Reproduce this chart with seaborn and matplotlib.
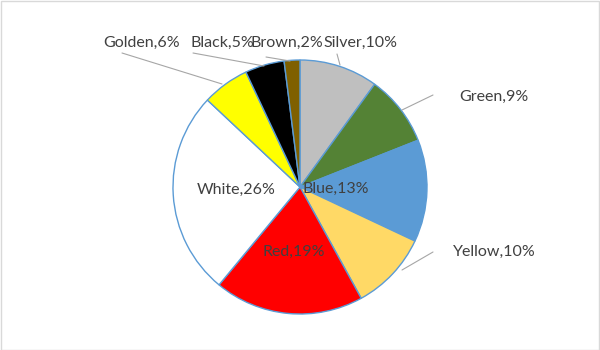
import matplotlib
matplotlib.use("Agg")
import matplotlib.pyplot as plt
import seaborn as sns
from matplotlib.patches import Rectangle

sns.set_theme(style="white")
plt.rcParams['font.family'] = ['Lato', 'DejaVu Sans']

# data
categories = ["Silver", "Green", "Blue", "Yellow", "Red", "White", "Golden", "Black", "Brown"]
values = [10, 9, 13, 10, 19, 26, 6, 5, 2]
colors = ["#BFBFBF", "#548235", "#5B9BD5", "#FFD966", "#FF0000", "#FFFFFF", "#FFFF00", "#000000", "#7F6000"]

# label positions in pixel coords (left x, center y from top)
label_pos = {
    "Silver": (323, 43), "Green": (459, 97), "Blue": (303, 189), "Yellow": (453, 252),
    "Red": (262, 252), "White": (197, 190), "Golden": (103, 43), "Black": (190, 43),
    "Brown": (250, 43),
}
leaders = {
    "Golden": ((122, 53), (222, 84)),
    "Black": ((193, 53), (264, 66)),
    "Brown": ((266, 57), (290, 61)),
    "Silver": ((337, 54), (340, 65)),
    "Green": ((433, 95), (402, 110)),
    "Yellow": ((433, 252), (402, 270)),
}

W, H = 600, 350
fig = plt.figure(figsize=(6, 3.5), dpi=100)
ax = fig.add_axes([0, 0, 1, 1])

ax.pie(values, colors=colors, startangle=90, counterclock=False,
       center=(300, H - 187), radius=127, frame=True,
       wedgeprops=dict(edgecolor="#5B9BD5", linewidth=1.0))
ax.set_xlim(0, W)
ax.set_ylim(0, H)
ax.set_aspect("equal")
ax.axis("off")

total = sum(values)
for c, v in zip(categories, values):
    px, py = label_pos[c]
    ax.text(px, H - py, f"{c},{round(100 * v / total)}%", ha="left", va="center",
            fontsize=11.5, color="#404040")

for c, (p0, p1) in leaders.items():
    ax.plot([p0[0], p1[0]], [H - p0[1], H - p1[1]], color="#A6A6A6", lw=0.8)

fig.patches.append(Rectangle((0.5 / W, 0.5 / H), 1 - 1.5 / W, 1 - 1.5 / H, transform=fig.transFigure,
                             fill=False, edgecolor="#D9D9D9", lw=1))
fig.savefig("out.png", dpi=100, facecolor="white")
